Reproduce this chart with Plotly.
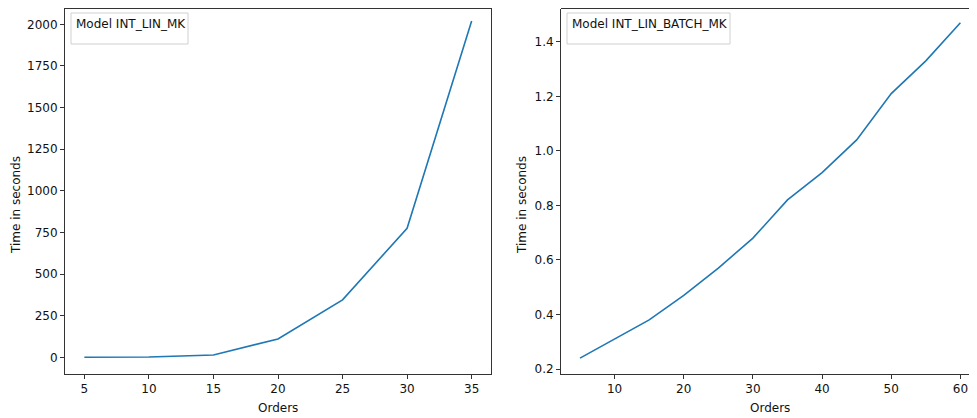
import plotly.graph_objects as go

orders_mk = [5, 10, 15, 20, 25, 30, 35]
time_mk = [0.1, 1.5, 14, 110, 345, 775, 2020]

orders_batch = [5, 10, 15, 20, 25, 30, 35, 40, 45, 50, 55, 60]
time_batch = [0.24, 0.31, 0.38, 0.47, 0.57, 0.68, 0.82, 0.92, 1.04, 1.21, 1.33, 1.47]

legend_left = "Model INT_LIN_MK"
legend_right = "Model INT_LIN_BATCH_MK"
x_title = "Orders"
y_title = "Time in seconds"

OFF = 8  # default page body margin
W, H = 977 - OFF, 418 - OFF
line_color = "#1f77b4"
font = dict(family="DejaVu Sans", size=12, color="#111")


def fx(p):
    return (p - OFF) / W


def fy(p):
    return 1 - (p - OFF) / H


fig = go.Figure()
fig.add_trace(go.Scatter(x=orders_mk, y=time_mk, mode="lines",
                         line=dict(color=line_color, width=1.6), xaxis="x", yaxis="y",
                         showlegend=False, hoverinfo="skip"))
fig.add_trace(go.Scatter(x=orders_batch, y=time_batch, mode="lines",
                         line=dict(color=line_color, width=1.6), xaxis="x2", yaxis="y2",
                         showlegend=False, hoverinfo="skip"))

axis_common = dict(showgrid=False, zeroline=False, showline=True, linecolor="#333",
                   linewidth=1, ticks="outside", ticklen=4, tickcolor="#333",
                   tickfont=font, automargin=False, ticklabeloverflow="allow")

plot_top, plot_bottom = 8.5, 374
fig.update_layout(
    width=W, height=H,
    margin=dict(l=0, r=0, t=0, b=0),
    paper_bgcolor="white", plot_bgcolor="white",
    font=font,
    xaxis=dict(axis_common, domain=[fx(65), fx(491)], range=[3.5, 36.5],
               tickvals=[5, 10, 15, 20, 25, 30, 35], mirror=True, anchor="y"),
    yaxis=dict(axis_common, domain=[fy(plot_bottom), fy(plot_top)], range=[-100.3, 2095], mirror=True,
               tickvals=[0, 250, 500, 750, 1000, 1250, 1500, 1750, 2000], anchor="x"),
    xaxis2=dict(axis_common, domain=[fx(561), 1.0], range=[2.25, 62.4],
                tickvals=[10, 20, 30, 40, 50, 60], anchor="y2"),
    yaxis2=dict(axis_common, domain=[fy(plot_bottom), fy(plot_top)], range=[0.1817, 1.522],
                tickvals=[0.2, 0.4, 0.6, 0.8, 1.0, 1.2, 1.4], tickformat=".1f", anchor="x2"),
)

# top border for the right panel (right edge is cropped in the reference)
fig.add_shape(type="line", xref="x2 domain", yref="y2 domain", x0=0, x1=1, y0=1, y1=1,
              line=dict(color="#333", width=1))

for x0, x1, txt in [(71, 188, legend_left), (567, 730, legend_right)]:
    fig.add_shape(type="rect", xref="paper", yref="paper",
                  x0=fx(x0), x1=fx(x1), y0=fy(44), y1=fy(13),
                  line=dict(color="#d0d0d0", width=1), fillcolor="rgba(255,255,255,0.8)")
    fig.add_annotation(xref="paper", yref="paper", x=fx(x0 + 3), y=fy(24),
                       text=txt, showarrow=False, xanchor="left", yanchor="middle",
                       font=font)

# axis titles
for xc in (278, 770):
    fig.add_annotation(xref="paper", yref="paper", x=fx(xc), y=fy(408), text=x_title,
                       showarrow=False, xanchor="center", yanchor="middle", font=font)
for xc in (16, 522):
    fig.add_annotation(xref="paper", yref="paper", x=fx(xc), y=fy(205), text=y_title,
                       textangle=-90, showarrow=False, xanchor="center", yanchor="middle",
                       font=font)

fig.write_html("out.html")
